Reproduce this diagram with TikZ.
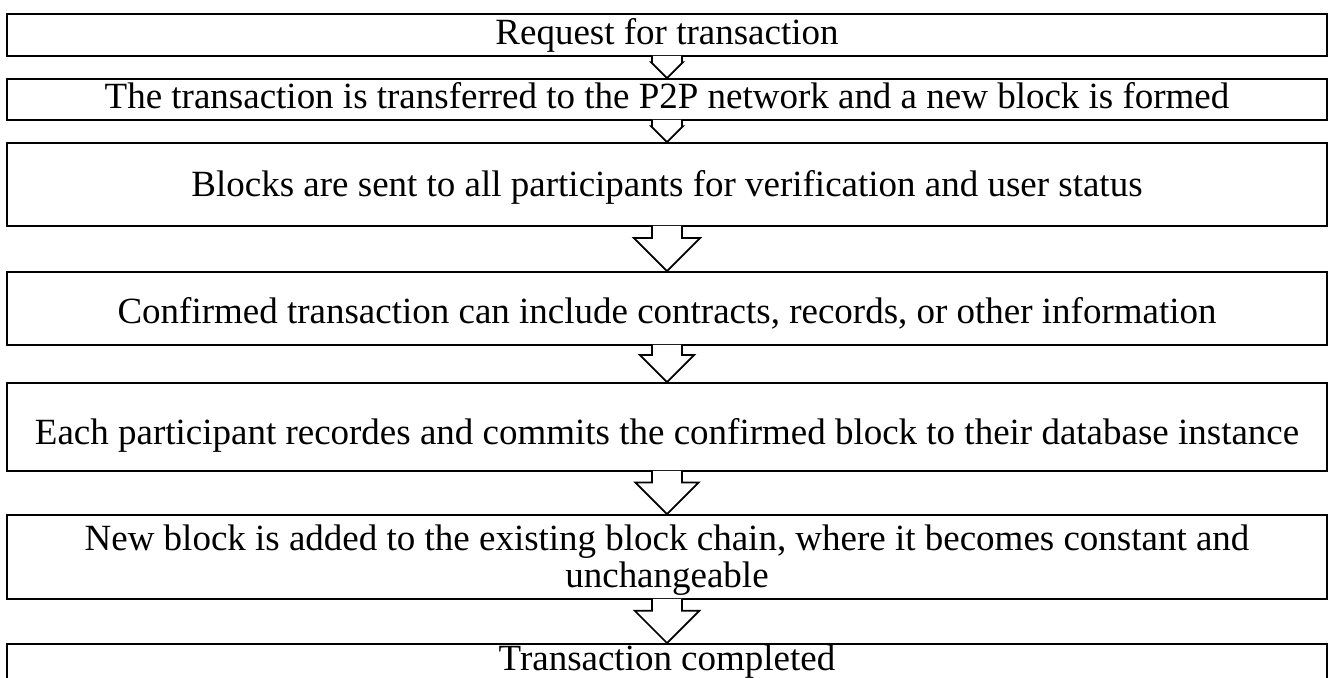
\documentclass[tikz,border=0pt]{standalone}
\usepackage{fontspec}
\setmainfont{Liberation Serif}
\usetikzlibrary{calc}

\tikzset{
  stepbox/.style={draw,line width=1pt,minimum width=26.4cm,inner sep=0pt,
    text depth=0.16cm,font=\fontsize{21.05}{21.3}\selectfont},
  bigarrow/.style={draw,line width=1pt,fill=white,line join=miter},
}
% hollow down arrow from the bottom of one box to the top of the next
\newcommand{\blockarrow}[2]{%
  \path[bigarrow] let \p1=(#1.south), \p2=(#2.north), \n1={0.75*(\y1-\y2)} in
    (\x1-0.3cm,\y1+0.6pt) -- (\x1-0.3cm,\y2+\n1) -- (\x1-\n1,\y2+\n1) -- (\x2,\y2)
    -- (\x1+\n1,\y2+\n1) -- (\x1+0.3cm,\y2+\n1) -- (\x1+0.3cm,\y1+0.6pt);
}

\begin{document}
\begin{tikzpicture}[x=0.02cm,y=-0.02cm]
  \useasboundingbox (0,0) rectangle (1332,678);
  \node[stepbox,minimum height=0.84cm,text height=0.56cm] (b1) at (667,35) {Request for transaction};
  \node[stepbox,minimum height=0.82cm,text height=0.52cm] (b2) at (667,99.5) {The transaction is transferred to the P2P network and a new block is formed};
  \node[stepbox,minimum height=1.66cm,text height=0.66cm] (b3) at (667,184.5) {Blocks are sent to all participants for verification and user status};
  \node[stepbox,minimum height=1.46cm,text height=0.78cm] (b4) at (667,308.5) {Confirmed transaction can include contracts, records, or other information};
  \node[stepbox,minimum height=1.76cm,text height=0.88cm] (b5) at (667,427) {Each participant recordes and commits the confirmed block to their database instance};
  \node[stepbox,minimum height=1.68cm,text height=1.40cm,align=center] (b6) at (667,557) {New block is added to the existing block chain, where it becomes constant and\\unchangeable};
  \node[stepbox,anchor=north,minimum height=1.2cm,text height=0.54cm,text depth=0.66cm] (b7) at (667,643) {Transaction completed};
  \blockarrow{b1}{b2}
  \blockarrow{b2}{b3}
  \blockarrow{b3}{b4}
  \blockarrow{b4}{b5}
  \blockarrow{b5}{b6}
  \blockarrow{b6}{b7}
\end{tikzpicture}
\end{document}
